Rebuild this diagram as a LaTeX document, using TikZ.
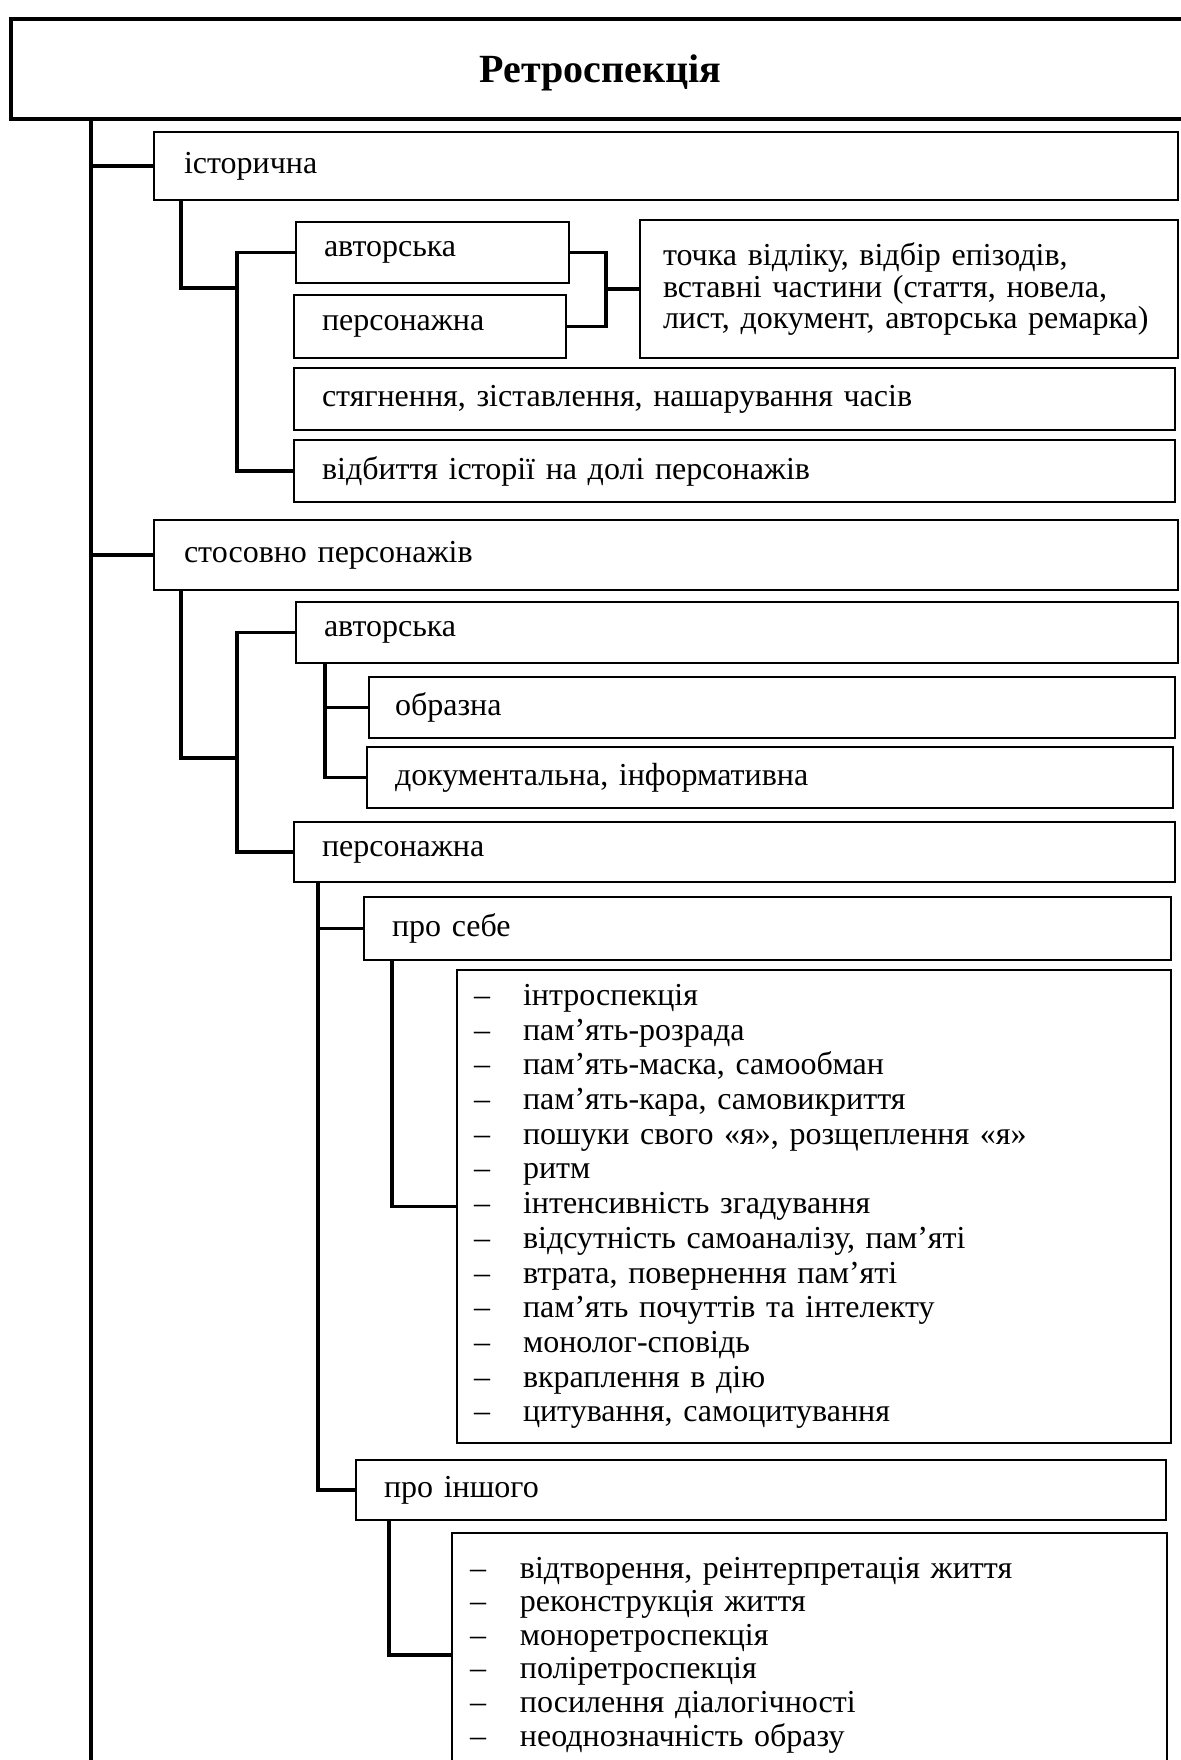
\documentclass[tikz,border=0pt]{standalone}
\usepackage{fontspec}
\setmainfont{Liberation Serif}
\begin{document}
\begin{tikzpicture}[x=0.5pt,y=-0.5pt,
  box/.style={draw, line width=1.2pt, rectangle, anchor=north west, align=left,
    inner ysep=0pt, outer sep=0pt, inner xsep=14pt, font=\fontsize{16}{18}\selectfont},
  link/.style={line width=1.6pt},
  spine/.style={line width=2.2pt},
  itemlist/.style={box, font=\fontsize{16}{17.35}\selectfont}]
\useasboundingbox (0,0) rectangle (1181,1760);
\clip (0,0) rectangle (1181,1760);

% heading
\node[box, line width=1.9pt, align=center, text width=559.5pt, inner xsep=15pt, text depth=0pt,
  minimum height=50pt, font=\bfseries\fontsize{20}{24}\selectfont] (title) at (11,19) {Ретроспекція};

% first group
\node[box, inner xsep=15pt, text width=482pt, minimum height=34pt] (ist) at (154,132) {історична};
\node[box, text width=108.5pt, minimum height=30.5pt] (avt1) at (296,222) {авторська};
\node[box, text width=108pt, minimum height=31.5pt] (pers1) at (294,295) {персонажна};
\node[box, inner xsep=11.5pt, text width=246pt, minimum height=69pt,
  font=\fontsize{16}{15.75}\selectfont] (note) at (640,220)
  {точка відліку, відбір епізодів,\\вставні частини (стаття, новела,\\лист, документ, авторська ремарка)};
\node[box, text width=412.5pt, minimum height=31pt] (styag) at (294,368) {стягнення, зіставлення, нашарування часів};
\node[box, text width=412.5pt, minimum height=31pt] (vidb) at (294,440) {відбиття історії на долі персонажів};

% second group
\node[box, inner xsep=15pt, text width=482pt, minimum height=35pt] (stos) at (154,520) {стосовно персонажів};
\node[box, text width=413pt, minimum height=30.5pt] (avt2) at (296,602) {авторська};
\node[box, inner xsep=13pt, text width=377pt, minimum height=30.5pt] (obr) at (369,677) {образна};
\node[box, text width=375pt, minimum height=30.5pt] (dok) at (367,747) {документальна, інформативна};
\node[box, text width=412.5pt, minimum height=30pt] (pers2) at (294,822) {персонажна};
\node[box, text width=375.5pt, minimum height=31.5pt] (self) at (364,897) {про себе};
\node[itemlist, inner xsep=8.5pt, text width=340pt, minimum height=236.5pt] (list1) at (457,970)
  {\makebox[24.5pt][l]{–}інтроспекція\\
   \makebox[24.5pt][l]{–}пам’ять-розрада\\
   \makebox[24.5pt][l]{–}пам’ять-маска, самообман\\
   \makebox[24.5pt][l]{–}пам’ять-кара, самовикриття\\
   \makebox[24.5pt][l]{–}пошуки свого «я», розщеплення «я»\\
   \makebox[24.5pt][l]{–}ритм\\
   \makebox[24.5pt][l]{–}інтенсивність згадування\\
   \makebox[24.5pt][l]{–}відсутність самоаналізу, пам’яті\\
   \makebox[24.5pt][l]{–}втрата, повернення пам’яті\\
   \makebox[24.5pt][l]{–}пам’ять почуттів та інтелекту\\
   \makebox[24.5pt][l]{–}монолог-сповідь\\
   \makebox[24.5pt][l]{–}вкраплення в дію\\
   \makebox[24.5pt][l]{–}цитування, самоцитування};
\node[box, text width=377pt, minimum height=30pt] (other) at (356,1460) {про іншого};
\node[itemlist, inner xsep=9pt, text width=339.5pt, minimum height=122pt,
  font=\fontsize{16}{16.8}\selectfont] (list2) at (452,1533)
  {\makebox[25pt][l]{–}відтворення, реінтерпретація життя\\
   \makebox[25pt][l]{–}реконструкція життя\\
   \makebox[25pt][l]{–}моноретроспекція\\
   \makebox[25pt][l]{–}поліретроспекція\\
   \makebox[25pt][l]{–}посилення діалогічності\\
   \makebox[25pt][l]{–}неоднозначність образу};

% main spine
\coordinate (mbot) at (91,1770);
\draw[spine] ([xshift=40pt]title.south west) -- (mbot);
\draw[link] (ist.west) -- (ist.west -| mbot);
\draw[link] (stos.west) -- (stos.west -| mbot);

% branches of the first group
\coordinate (j1) at (237,288);
\draw[link] ([xshift=13.5pt]ist.south west) |- (j1);
\draw[link] (avt1.west) -| (j1) |- (vidb.west);
\coordinate (brx) at (606,289);
\draw[link] (avt1.east) -| (brx) |- (pers1.east);
\draw[link] (brx) -- (note.west);

% branches of the second group
\coordinate (j2) at (237,758);
\draw[link] ([xshift=13.5pt]stos.south west) |- (j2);
\draw[link] (avt2.west) -| (j2) |- (pers2.west);
\coordinate (a2v) at ([xshift=14.5pt]avt2.south west);
\draw[link] (a2v) |- (dok.west);
\draw[link] (obr.west) -- (obr.west -| a2v);
\coordinate (p2v) at ([xshift=12pt]pers2.south west);
\draw[link] (p2v) |- (other.west);
\draw[link] (self.west) -- (self.west -| p2v);
\draw[link] ([xshift=14pt]self.south west) |- (list1.west);
\draw[link] ([xshift=16.5pt]other.south west) |- (list2.west);
\end{tikzpicture}
\end{document}
